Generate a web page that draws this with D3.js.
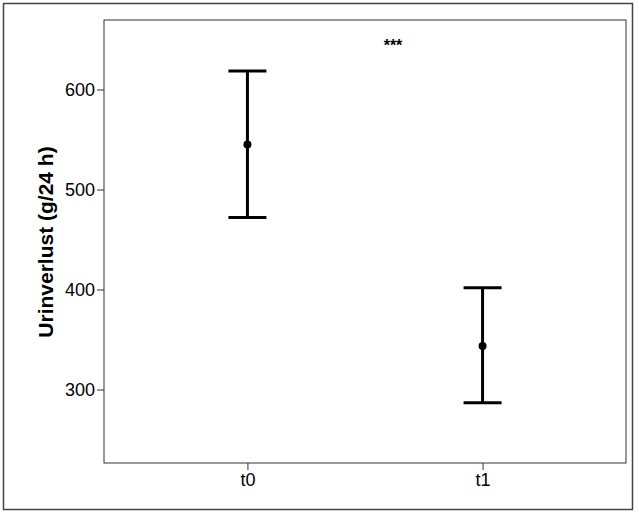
<!DOCTYPE html>
<html><head><meta charset="utf-8">
<script src="https://cdn.jsdelivr.net/npm/d3@7"></script>
<style>body{margin:0;background:#fff}svg{display:block}</style>
</head><body>
<script>
const categories = ["t0", "t1"];
const means = [545, 343.5];
const upper = [618.5, 401.8];
const lower = [472, 286.8];
const yTicks = [300, 400, 500, 600];
const yLabel = "Urinverlust (g/24 h)";
const sigLabel = "***";

const W = 639, H = 513;
const m = {left: 104, right: 13, top: 20, bottom: 50};
const svg = d3.select("body").append("svg").attr("width", W).attr("height", H);
const font = "'Liberation Sans', Arial, sans-serif";

svg.append("rect").attr("x", 3.5).attr("y", 3.5).attr("width", 629).attr("height", 506)
  .attr("fill", "none").attr("stroke", "#444").attr("stroke-width", 1.5);

const pw = W - m.left - m.right, ph = H - m.top - m.bottom;
const g = svg.append("g").attr("transform", `translate(${m.left},${m.top})`);

const x = d3.scalePoint().domain(categories).range([0, pw]).padding(0.61);
const y = d3.scaleLinear().domain([669.5, 226.5]).range([0, ph]);

g.append("rect").attr("x", 0).attr("y", 0).attr("width", pw).attr("height", ph)
  .attr("fill", "none").attr("stroke", "#333").attr("stroke-width", 1);

const yAxis = g.append("g").call(d3.axisLeft(y).tickValues(yTicks).tickSize(7).tickPadding(2));
const xAxis = g.append("g").attr("transform", `translate(0,${ph})`).call(d3.axisBottom(x).tickSize(7).tickPadding(3));
[yAxis, xAxis].forEach(a => {
  a.select(".domain").remove();
  a.selectAll("line").attr("stroke", "#333");
  a.selectAll("text").attr("font-family", font).attr("font-size", 18).attr("fill", "#000");
});

const cap = 19;
categories.forEach((c, i) => {
  const cx = x(c);
  g.append("line").attr("x1", cx).attr("x2", cx).attr("y1", y(upper[i])).attr("y2", y(lower[i]))
    .attr("stroke", "#000").attr("stroke-width", 3);
  [upper[i], lower[i]].forEach(v => {
    g.append("line").attr("x1", cx - cap).attr("x2", cx + cap).attr("y1", y(v)).attr("y2", y(v))
      .attr("stroke", "#000").attr("stroke-width", 3);
  });
  g.append("circle").attr("cx", cx).attr("cy", y(means[i])).attr("r", 4).attr("fill", "#000");
});

svg.append("text").attr("transform", `translate(53,242) rotate(-90)`)
  .attr("text-anchor", "middle").attr("font-family", font).attr("font-size", 21)
  .attr("font-weight", "bold").text(yLabel);

svg.append("text").attr("x", 393).attr("y", 51).attr("text-anchor", "middle")
  .attr("font-family", font).attr("font-size", 16).attr("font-weight", "bold").text(sigLabel);
</script>
</body></html>
